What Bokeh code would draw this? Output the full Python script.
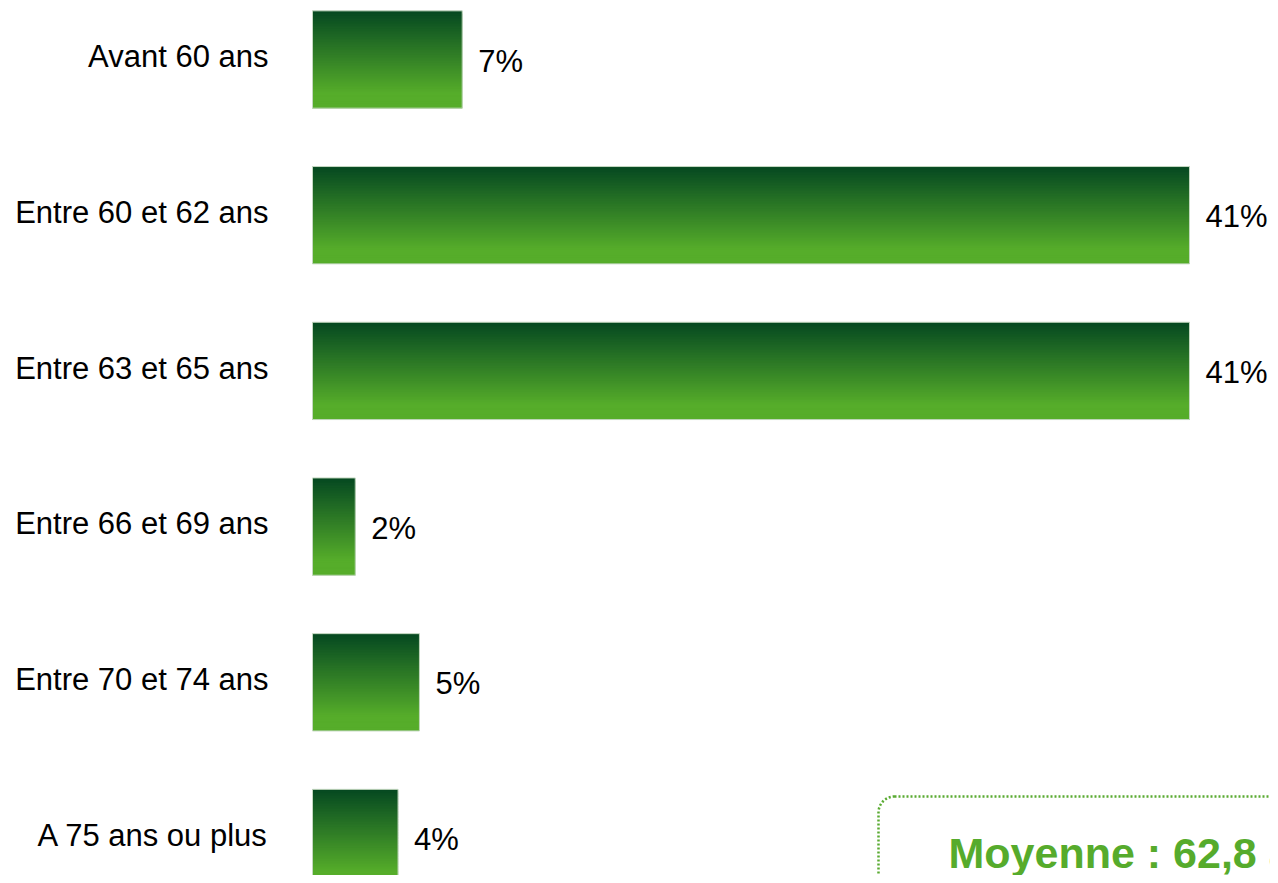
from bokeh.plotting import figure
from bokeh.models import Range1d, BoxAnnotation
from bokeh.embed import file_html
from bokeh.resources import INLINE
from bokeh.core.properties import value

# ---- data ----
categories = ["Avant 60 ans", "Entre 60 et 62 ans", "Entre 63 et 65 ans",
              "Entre 66 et 69 ans", "Entre 70 et 74 ans", "A 75 ans ou plus"]
values = [7, 41, 41, 2, 5, 4]
value_labels = ["7%", "41%", "41%", "2%", "5%", "4%"]
mean_text = "Moyenne : 62,8 ans"

# ---- layout (pixels on canvas) ----
W, H = 1270, 875
X_ORIGIN_PX = 312          # canvas x of value 0
PX_PER_UNIT = 21.39        # pixels per percent
Y_FIRST_PX = 59            # canvas y of first bar centre
PX_PER_ROW = 155.7
BAR_H = 0.625

def xd(px):
    return (px - X_ORIGIN_PX) / PX_PER_UNIT

def yd(px):
    return (px - Y_FIRST_PX) / PX_PER_ROW

p = figure(width=W, height=H, output_backend="svg", toolbar_location=None,
           x_range=Range1d(xd(0), xd(W)), y_range=Range1d(yd(H), yd(0)),
           min_border=0, min_border_left=0, min_border_right=0,
           min_border_top=0, min_border_bottom=0)
p.axis.visible = False
p.grid.visible = False
p.outline_line_color = None
p.background_fill_color = "white"
p.border_fill_color = "white"

# gradient via overlapping horizontal slices (drawn top to bottom)
top_c = (5, 72, 33)
bot_c = (86, 173, 42)
N = 60
ys, rights, heights, colors = [], [], [], []
for k in range(N):
    t = (k + 0.5) / N
    tt = min(t / 0.85, 1.0)
    c = tuple(int(round(top_c[j] + (bot_c[j] - top_c[j]) * tt)) for j in range(3))
    for i, v in enumerate(values):
        step = BAR_H / N
        top = i - BAR_H / 2 + k * step
        bottom = min(top + step * 3, i + BAR_H / 2)
        ys.append((top + bottom) / 2)
        rights.append(v)
        heights.append(bottom - top)
        colors.append("#%02x%02x%02x" % c)
p.hbar(y=ys, left=0, right=rights, height=heights, fill_color=colors, line_color=None)

idx = list(range(len(values)))
p.hbar(y=idx, left=0, right=values, height=BAR_H, fill_color=None,
       line_color="#c4d8c0", line_width=1)

# category labels
p.text(x=[0] * len(categories), y=[i - 0.018 for i in idx], text=categories,
       x_offset=-44, text_align="right", text_baseline="middle",
       text_font=value("Liberation Sans"), text_font_size="31px", text_color="#000000")

# value labels
p.text(x=values, y=[i + 0.01 for i in idx], text=value_labels,
       x_offset=16, text_align="left", text_baseline="middle",
       text_font=value("Liberation Sans"), text_font_size="31px", text_color="#000000")

# mean box
box = BoxAnnotation(left=xd(878), right=xd(W + 200), top=yd(796), bottom=yd(H + 200),
                    fill_alpha=0, line_color="#5aab32", line_alpha=1.0, line_width=2.5,
                    line_dash="2 2", border_radius=16)
p.add_layout(box)
p.text(x=[xd(948)], y=[yd(852)], text=[mean_text], text_align="left",
       text_baseline="middle", text_font=value("Liberation Sans"),
       text_font_style="bold", text_font_size="43px", text_color="#56ab2c")

open("out.html", "w").write(file_html(p, INLINE))
